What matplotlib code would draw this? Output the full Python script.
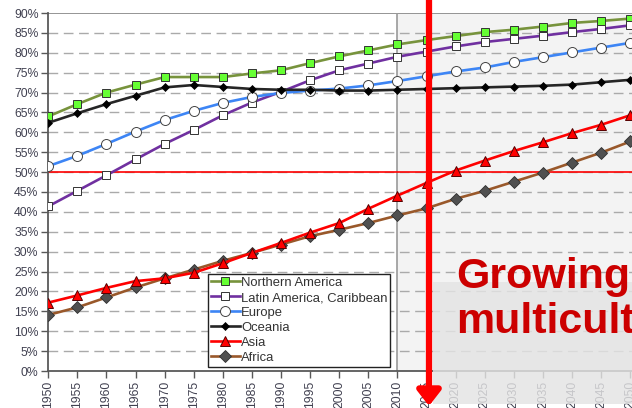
import matplotlib
matplotlib.use("Agg")
import matplotlib.pyplot as plt
from matplotlib.patches import Rectangle, FancyArrowPatch
from matplotlib.ticker import PercentFormatter

plt.rcParams['font.family'] = ['Liberation Sans', 'DejaVu Sans']

years = list(range(1950, 2051, 5))
northern_america = [64.0, 67.1, 70.0, 72.0, 73.9, 73.9, 73.9, 74.8, 75.6, 77.4, 79.1, 80.6, 82.1,
                    83.2, 84.2, 85.2, 85.8, 86.6, 87.5, 88.0, 88.6]
latin_america = [41.4, 45.3, 49.2, 53.2, 57.1, 60.6, 64.3, 67.5, 70.2, 73.1, 75.6, 77.3, 79.0,
                 80.3, 81.6, 82.7, 83.5, 84.3, 85.2, 86.0, 86.9]
europe = [51.5, 54.1, 57.1, 60.2, 63.1, 65.4, 67.4, 68.9, 69.9, 70.5, 71.0, 71.8, 72.9,
          74.1, 75.3, 76.3, 77.7, 78.9, 80.1, 81.3, 82.5]
oceania = [62.4, 64.8, 67.1, 69.2, 71.3, 71.9, 71.4, 70.9, 70.7, 70.7, 70.5, 70.5, 70.7,
           70.9, 71.1, 71.3, 71.5, 71.7, 72.0, 72.6, 73.2]
asia = [17.2, 19.0, 20.9, 22.6, 23.3, 24.7, 27.1, 29.7, 32.2, 34.8, 37.2, 40.8, 44.1,
        47.3, 50.4, 52.9, 55.3, 57.5, 59.8, 61.9, 64.3]
africa = [14.1, 16.0, 18.5, 21.0, 23.3, 25.5, 27.7, 29.7, 31.8, 33.9, 35.5, 37.2, 39.1,
          40.9, 43.3, 45.3, 47.6, 49.9, 52.4, 54.9, 57.7]
y_ticks = list(range(0, 91, 5))

W, H = 632, 408
fig = plt.figure(figsize=(W / 100, H / 100), dpi=100)
# 1950 at x=48.3px, 5 years = 29.1px ; y 0 at 371px, 90 at 13px
x0 = 48.3
px_per_year = 29.1 / 5
xmax = 2056
ax = fig.add_axes([x0 / W, (H - 371) / H, (xmax - 1950) * px_per_year / W, (371 - 13) / H])
ax.set_xlim(1950, xmax)
ax.set_ylim(0, 90)

ax.axvspan(2010, xmax, color='#f3f3f3', zorder=0)
for t in y_ticks[1:-1]:
    ax.axhline(t, color='#aaaaaa', lw=1.0, ls=(0, (7, 4)), zorder=1)
ax.axhline(90, color='#8c8c8c', lw=1.3, zorder=1)
ax.axvline(2010, color='#9a9a9a', lw=1.2, zorder=1)
ax.axhline(50, color='#ff0000', lw=1.2, zorder=2)

lw = 1.9
ax.plot(years, northern_america, color='#77933c', lw=lw, marker='s', ms=6.3,
        mfc='#66ff33', mec='#333333', mew=0.7, label='Northern America', zorder=5)
ax.plot(years, latin_america, color='#7030a0', lw=lw, marker='s', ms=6.3,
        mfc='white', mec='#333333', mew=0.7, label='Latin America, Caribbean', zorder=5)
ax.plot(years, europe, color='#3d85f5', lw=lw, marker='o', ms=7.2,
        mfc='white', mec='#444444', mew=0.7, label='Europe', zorder=5)
ax.plot(years, oceania, color='#262626', lw=lw, marker='D', ms=4.2,
        mfc='black', mec='black', mew=0.5, label='Oceania', zorder=5)
ax.plot(years, asia, color='#ff0000', lw=lw, marker='^', ms=7.5,
        mfc='#ff0000', mec='#550000', mew=0.7, label='Asia', zorder=6)
ax.plot(years, africa, color='#99582a', lw=lw, marker='D', ms=6.0,
        mfc='#505050', mec='#303030', mew=0.6, label='Africa', zorder=5)

for s in ['top', 'right']:
    ax.spines[s].set_visible(False)
for s in ['left', 'bottom']:
    ax.spines[s].set_color('#595959')
    ax.spines[s].set_linewidth(1.3)
ax.set_yticks(y_ticks)
ax.yaxis.set_major_formatter(PercentFormatter(decimals=0))
ax.set_xticks(years)
ax.set_xticklabels([str(y) for y in years], rotation=90)
ax.tick_params(axis='both', direction='out', length=5, width=1, color='#595959',
               labelsize=8.8, labelcolor='#404050', pad=2)

leg = ax.legend(loc='upper left', bbox_to_anchor=(208 / W, 1 - 274 / H), bbox_transform=fig.transFigure,
                fontsize=9.4, frameon=True, fancybox=False, framealpha=1, edgecolor='#222222',
                handlelength=2.2, handletextpad=0.1, labelspacing=0.22, borderpad=0.22,
                borderaxespad=0, labelcolor='#333333')
leg.get_frame().set_linewidth(1.0)
leg.set_zorder(10)

# translucent grey text panel
fig.patches.append(Rectangle((433 / W, (H - 404) / H), (W - 433) / W, (404 - 282) / H,
                             transform=fig.transFigure, facecolor='#e4e4e4', alpha=0.82,
                             edgecolor='none', zorder=20))
fig.text(456 / W, 1 - 333 / H, 'Growing,\nmulticultural', color='#cc0000', fontsize=31,
         fontweight='bold', ha='left', va='baseline', linespacing=1.15, zorder=21)

arrow = FancyArrowPatch((429 / W, 1.0), (429 / W, 1 - 406 / H), transform=fig.transFigure,
                        arrowstyle='-|>,head_length=9,head_width=7', color='#ff0000', lw=4.5,
                        mutation_scale=1, shrinkA=0, shrinkB=0, zorder=22)
fig.patches.append(arrow)

fig.savefig('out.png', dpi=100)
